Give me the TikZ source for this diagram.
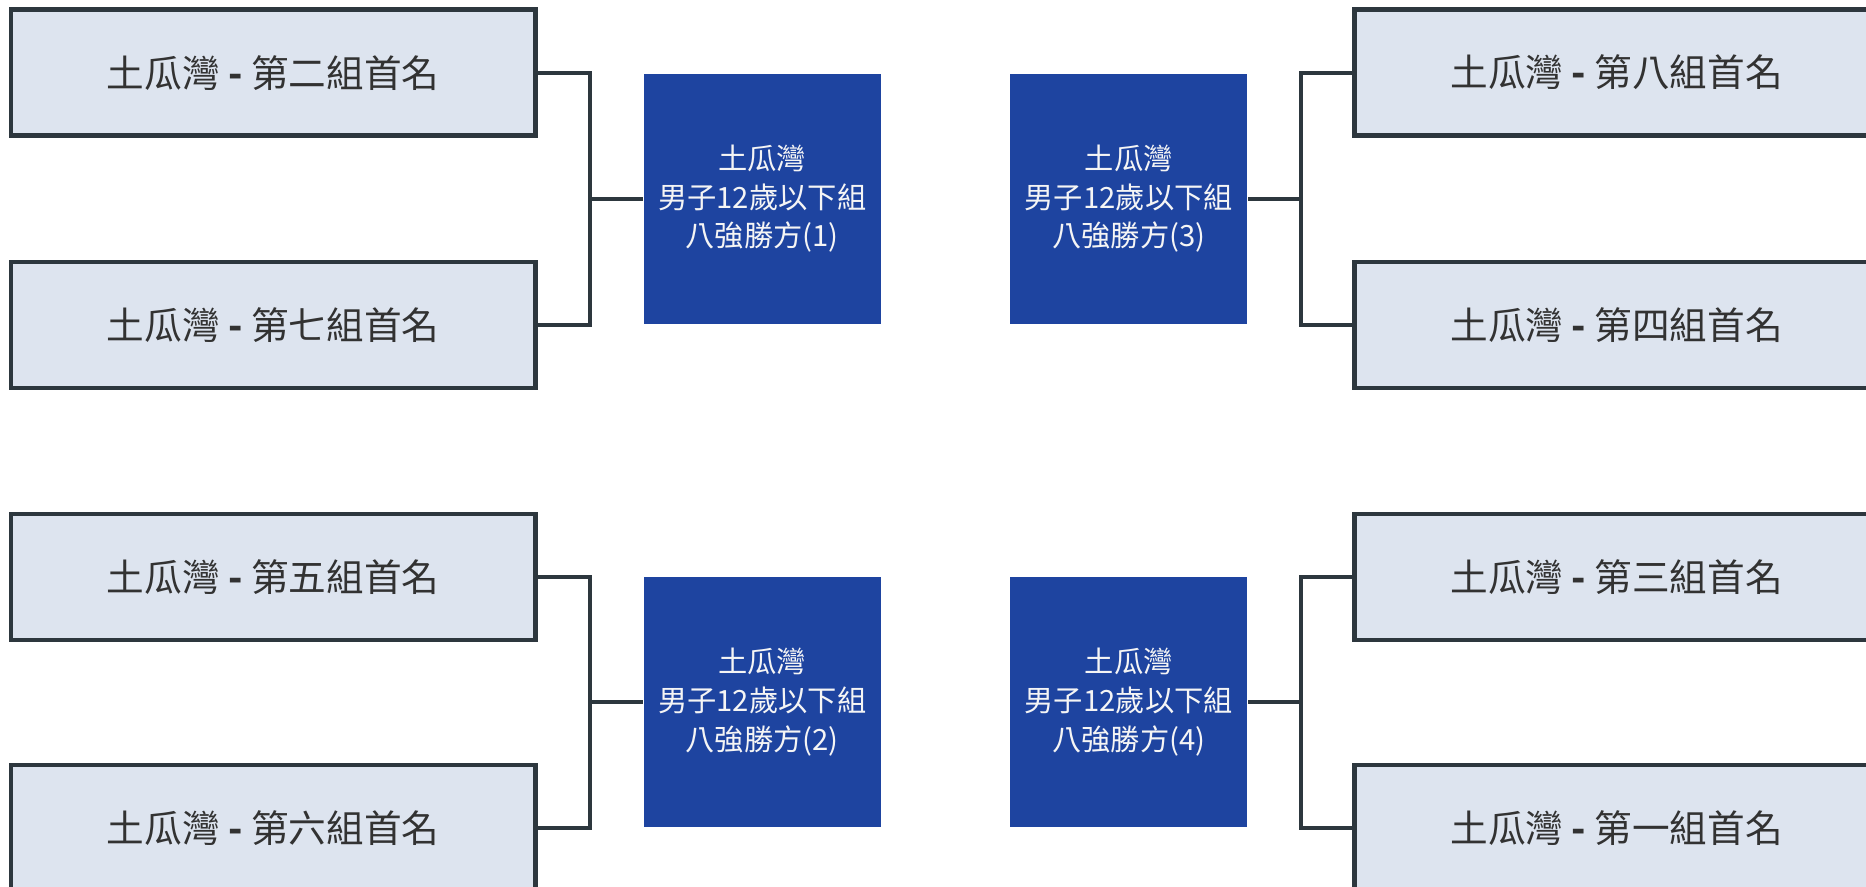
\documentclass[tikz,border=0pt]{standalone}
\usepackage{fontspec}
\setmainfont{Noto Sans CJK TC}
\usepackage{tikz}
\usetikzlibrary{positioning}

\definecolor{seedfill}{RGB}{221,228,239}
\definecolor{seedline}{RGB}{45,55,62}
\definecolor{seedtext}{RGB}{50,50,50}
\definecolor{winblue}{RGB}{30,68,160}

\tikzset{
  seed/.style={
    rectangle,
    draw=seedline,
    fill=seedfill,
    line width=2.1pt,
    minimum width=8.82cm,
    minimum height=2.12cm,
    text=seedtext,
    font=\fontsize{18}{22}\selectfont},
  winner/.style={
    rectangle,
    fill=winblue,
    minimum width=3.98cm,
    minimum height=4.2cm,
    align=center,
    text=white!92!gray,
    font=\fontsize{14}{18.5}\selectfont},
  bracket/.style={draw=seedline, line width=2pt}
}

\begin{document}
\begin{tikzpicture}[x=0.02cm, y=-0.02cm]
  \clip (0,0) rectangle (1568,745);
  \fill[white] (0,0) rectangle (1568,745);

  % Upper left pair and winner (1)
  \node [seed] (g2) at (229.5,61) {土瓜灣 {\bfseries -} 第二組首名};
  \node [seed] (g7) at (229.5,273) {土瓜灣 {\bfseries -} 第七組首名};
  \node [winner] (w1) at (640.5,167) {土瓜灣\\男子12歲以下組\\八強勝方(1)};
  \coordinate (j1) at (495.5,167);
  \draw [bracket] (g2.east) -| (j1) |- (g7.east);
  \draw [bracket] (j1) -- (w1.west);

  % Upper right pair and winner (3)
  \node [seed] (g8) at (1358.5,61) {土瓜灣 {\bfseries -} 第八組首名};
  \node [seed] (g4) at (1358.5,273) {土瓜灣 {\bfseries -} 第四組首名};
  \node [winner] (w3) at (948.5,167) {土瓜灣\\男子12歲以下組\\八強勝方(3)};
  \coordinate (j3) at (1093.5,167);
  \draw [bracket] (g8.west) -| (j3) |- (g4.west);
  \draw [bracket] (j3) -- (w3.east);

  % Lower left pair and winner (2)
  \node [seed] (g5) at (229.5,485) {土瓜灣 {\bfseries -} 第五組首名};
  \node [seed] (g6) at (229.5,696) {土瓜灣 {\bfseries -} 第六組首名};
  \node [winner] (w2) at (640.5,590) {土瓜灣\\男子12歲以下組\\八強勝方(2)};
  \coordinate (j2) at (495.5,590);
  \draw [bracket] (g5.east) -| (j2) |- (g6.east);
  \draw [bracket] (j2) -- (w2.west);

  % Lower right pair and winner (4)
  \node [seed] (g3) at (1358.5,485) {土瓜灣 {\bfseries -} 第三組首名};
  \node [seed] (g1) at (1358.5,696) {土瓜灣 {\bfseries -} 第一組首名};
  \node [winner] (w4) at (948.5,590) {土瓜灣\\男子12歲以下組\\八強勝方(4)};
  \coordinate (j4) at (1093.5,590);
  \draw [bracket] (g3.west) -| (j4) |- (g1.west);
  \draw [bracket] (j4) -- (w4.east);
\end{tikzpicture}
\end{document}
